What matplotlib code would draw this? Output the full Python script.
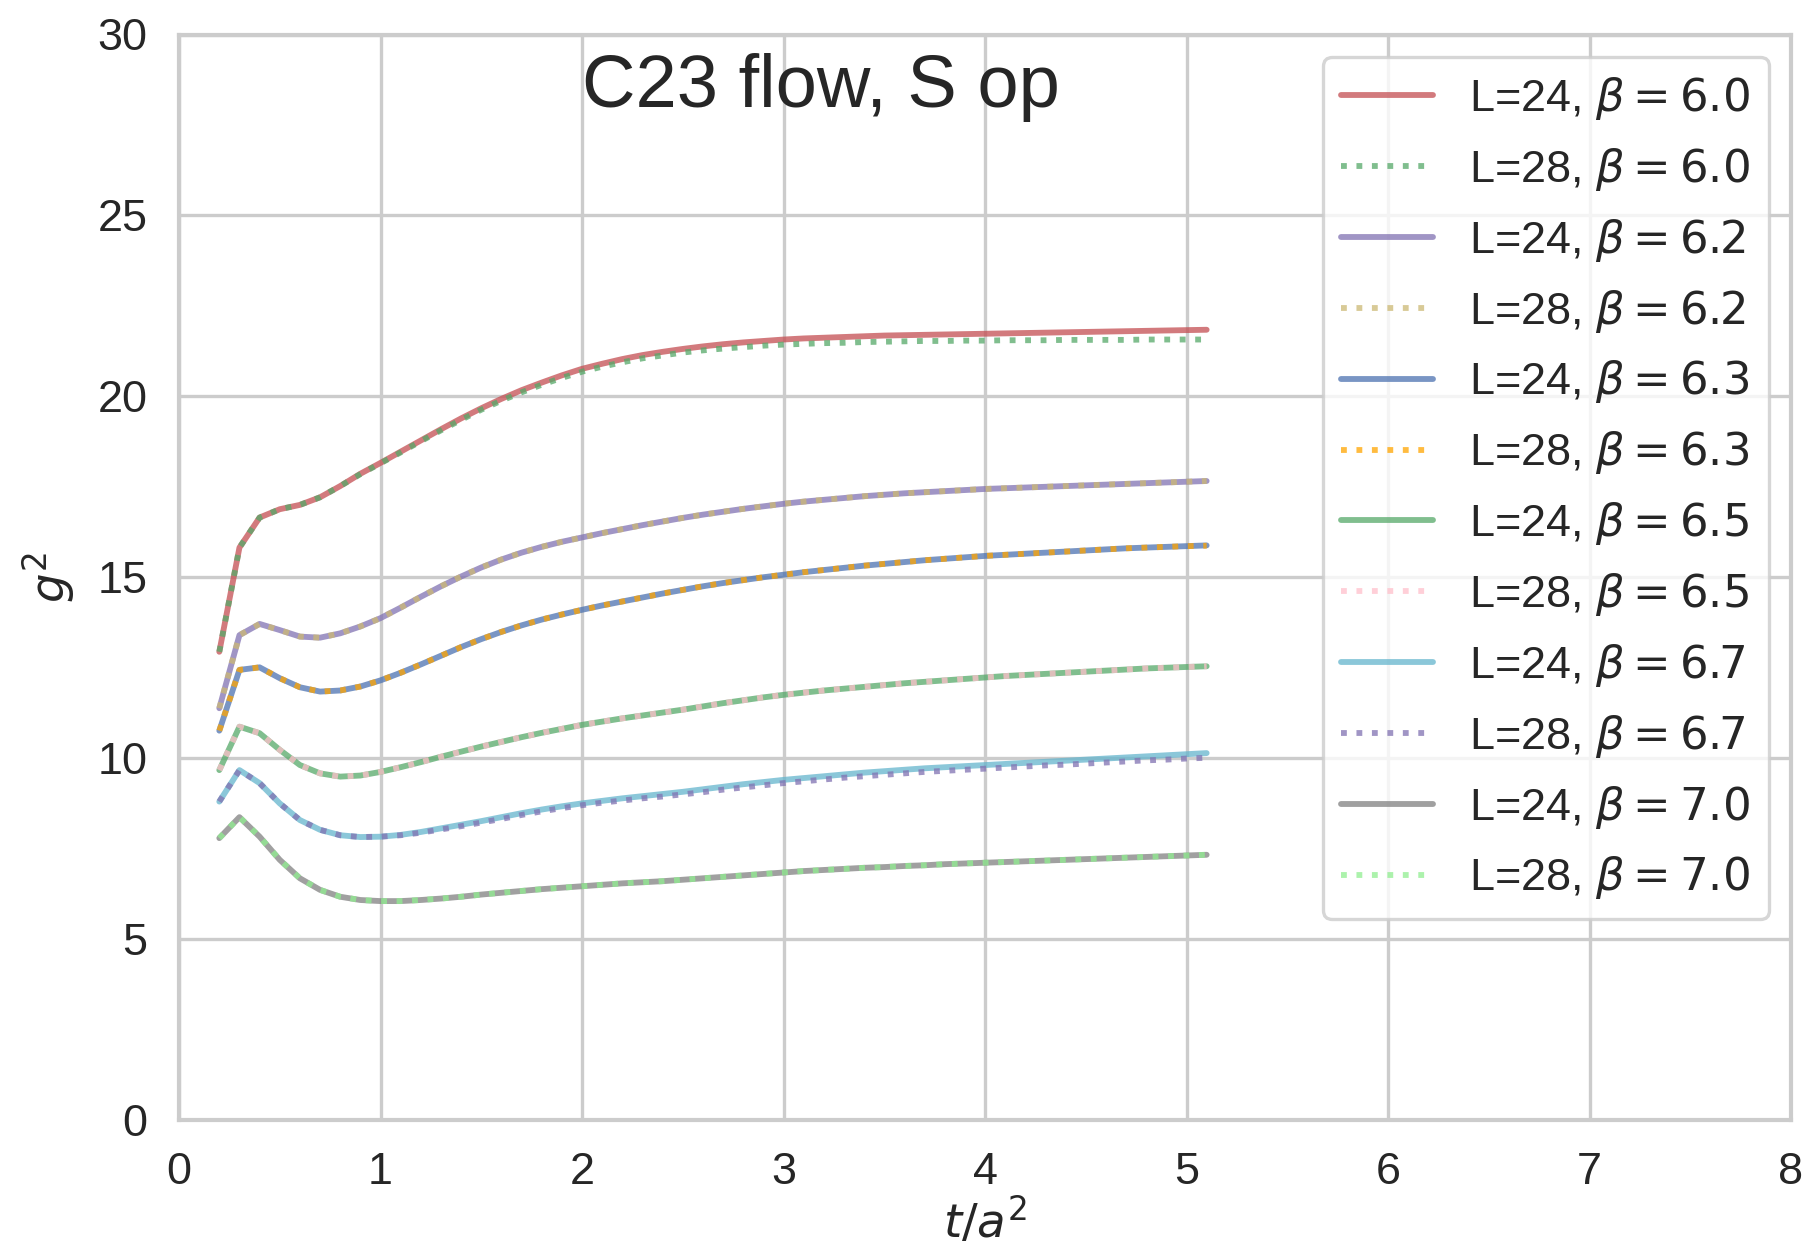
import matplotlib
matplotlib.use("Agg")
import matplotlib.pyplot as plt
import seaborn as sns

# Flow time t/a^2
flow_time = [0.2, 0.3, 0.4, 0.5, 0.6, 0.7, 0.8, 0.9, 1.0, 1.1,
             1.2, 1.3, 1.4, 1.5, 1.6, 1.7, 1.8, 1.9, 2.0, 2.1,
             2.2, 2.3, 2.4, 2.5, 2.6, 2.7, 2.8, 2.9, 3.0, 3.1,
             3.2, 3.3, 3.4, 3.5, 3.6, 3.7, 3.8, 3.9, 4.0, 4.1,
             4.2, 4.3, 4.4, 4.5, 4.6, 4.7, 4.8, 4.9, 5.0, 5.1]

# Running coupling g^2 for each lattice size / beta
g2_L24_b60 = [12.94, 15.82, 16.65, 16.88, 17.00, 17.21, 17.52, 17.86, 18.16, 18.47,
              18.78, 19.09, 19.39, 19.67, 19.93, 20.17, 20.38, 20.58, 20.76, 20.90,
              21.03, 21.14, 21.23, 21.31, 21.38, 21.44, 21.49, 21.53, 21.57, 21.60,
              21.62, 21.64, 21.66, 21.68, 21.69, 21.70, 21.71, 21.72, 21.73, 21.74,
              21.75, 21.76, 21.77, 21.78, 21.79, 21.80, 21.81, 21.82, 21.83, 21.84]
g2_L28_b60 = [12.94, 15.82, 16.65, 16.88, 17.00, 17.21, 17.52, 17.85, 18.15, 18.45,
              18.76, 19.06, 19.35, 19.63, 19.88, 20.11, 20.32, 20.51, 20.68, 20.82,
              20.94, 21.05, 21.13, 21.21, 21.27, 21.32, 21.36, 21.40, 21.43, 21.45,
              21.47, 21.48, 21.50, 21.51, 21.52, 21.53, 21.53, 21.54, 21.54, 21.55,
              21.55, 21.55, 21.56, 21.56, 21.56, 21.56, 21.57, 21.57, 21.57, 21.57]
g2_L24_b62 = [11.38, 13.40, 13.71, 13.54, 13.36, 13.33, 13.45, 13.64, 13.87, 14.16,
              14.46, 14.75, 15.02, 15.27, 15.49, 15.68, 15.84, 15.98, 16.10, 16.22,
              16.33, 16.44, 16.54, 16.64, 16.73, 16.81, 16.89, 16.96, 17.03, 17.09,
              17.14, 17.19, 17.24, 17.28, 17.32, 17.35, 17.38, 17.41, 17.44, 17.46,
              17.48, 17.50, 17.52, 17.54, 17.56, 17.58, 17.60, 17.62, 17.64, 17.66]
g2_L28_b62 = [11.38, 13.40, 13.71, 13.54, 13.36, 13.33, 13.45, 13.64, 13.87, 14.16,
              14.46, 14.75, 15.02, 15.27, 15.49, 15.68, 15.84, 15.98, 16.10, 16.22,
              16.33, 16.44, 16.54, 16.64, 16.73, 16.81, 16.89, 16.96, 17.03, 17.09,
              17.14, 17.19, 17.24, 17.28, 17.32, 17.35, 17.38, 17.41, 17.44, 17.46,
              17.48, 17.50, 17.52, 17.54, 17.56, 17.58, 17.60, 17.62, 17.64, 17.66]
g2_L24_b63 = [10.76, 12.44, 12.51, 12.21, 11.96, 11.84, 11.87, 11.98, 12.15, 12.36,
              12.59, 12.83, 13.07, 13.29, 13.49, 13.67, 13.83, 13.97, 14.10, 14.22,
              14.33, 14.44, 14.55, 14.65, 14.75, 14.84, 14.92, 15.00, 15.07, 15.14,
              15.20, 15.26, 15.32, 15.37, 15.42, 15.47, 15.51, 15.55, 15.59, 15.62,
              15.65, 15.68, 15.71, 15.74, 15.77, 15.80, 15.82, 15.84, 15.86, 15.88]
g2_L28_b63 = [10.76, 12.44, 12.51, 12.21, 11.96, 11.84, 11.87, 11.98, 12.15, 12.36,
              12.59, 12.83, 13.07, 13.29, 13.49, 13.67, 13.83, 13.97, 14.10, 14.22,
              14.33, 14.44, 14.55, 14.65, 14.75, 14.84, 14.92, 15.00, 15.07, 15.14,
              15.20, 15.26, 15.32, 15.37, 15.42, 15.47, 15.51, 15.55, 15.59, 15.62,
              15.65, 15.68, 15.71, 15.74, 15.77, 15.80, 15.82, 15.84, 15.86, 15.87]
g2_L24_b65 = [9.67, 10.87, 10.69, 10.23, 9.81, 9.58, 9.49, 9.52, 9.62, 9.75,
              9.89, 10.04, 10.18, 10.32, 10.45, 10.58, 10.70, 10.81, 10.92, 11.01,
              11.10, 11.18, 11.26, 11.34, 11.43, 11.52, 11.60, 11.68, 11.75, 11.81,
              11.87, 11.92, 11.97, 12.02, 12.07, 12.11, 12.15, 12.19, 12.23, 12.27,
              12.30, 12.33, 12.36, 12.39, 12.42, 12.45, 12.48, 12.50, 12.52, 12.54]
g2_L28_b65 = [9.67, 10.87, 10.69, 10.23, 9.81, 9.58, 9.49, 9.52, 9.62, 9.75,
              9.89, 10.04, 10.18, 10.32, 10.45, 10.58, 10.70, 10.81, 10.92, 11.01,
              11.10, 11.18, 11.26, 11.34, 11.43, 11.52, 11.60, 11.68, 11.75, 11.81,
              11.87, 11.92, 11.97, 12.02, 12.07, 12.11, 12.15, 12.19, 12.23, 12.27,
              12.30, 12.33, 12.36, 12.39, 12.42, 12.45, 12.48, 12.50, 12.52, 12.54]
g2_L24_b67 = [8.80, 9.67, 9.31, 8.75, 8.29, 8.02, 7.87, 7.82, 7.83, 7.88,
              7.96, 8.06, 8.16, 8.26, 8.37, 8.48, 8.58, 8.67, 8.75, 8.82,
              8.89, 8.95, 9.01, 9.07, 9.14, 9.21, 9.28, 9.34, 9.40, 9.45,
              9.50, 9.55, 9.60, 9.64, 9.68, 9.72, 9.75, 9.78, 9.81, 9.84,
              9.87, 9.90, 9.93, 9.96, 9.99, 10.02, 10.05, 10.08, 10.11, 10.14]
g2_L28_b67 = [8.80, 9.67, 9.31, 8.75, 8.29, 8.02, 7.87, 7.82, 7.83, 7.87,
              7.94, 8.03, 8.12, 8.22, 8.32, 8.43, 8.53, 8.62, 8.70, 8.77,
              8.83, 8.89, 8.94, 9.00, 9.06, 9.13, 9.19, 9.25, 9.31, 9.36,
              9.41, 9.46, 9.50, 9.54, 9.58, 9.62, 9.65, 9.68, 9.71, 9.74,
              9.77, 9.80, 9.82, 9.85, 9.88, 9.91, 9.94, 9.96, 9.99, 10.01]
g2_L24_b70 = [7.79, 8.37, 7.83, 7.19, 6.68, 6.36, 6.17, 6.08, 6.05, 6.05,
              6.08, 6.12, 6.17, 6.23, 6.28, 6.33, 6.38, 6.42, 6.46, 6.50,
              6.54, 6.57, 6.60, 6.64, 6.68, 6.72, 6.76, 6.80, 6.84, 6.88,
              6.91, 6.94, 6.97, 6.99, 7.02, 7.04, 7.07, 7.09, 7.11, 7.13,
              7.15, 7.17, 7.19, 7.21, 7.23, 7.25, 7.27, 7.29, 7.31, 7.33]
g2_L28_b70 = [7.79, 8.37, 7.83, 7.19, 6.68, 6.36, 6.17, 6.08, 6.05, 6.05,
              6.08, 6.12, 6.17, 6.23, 6.28, 6.33, 6.38, 6.42, 6.46, 6.50,
              6.54, 6.57, 6.60, 6.64, 6.68, 6.72, 6.76, 6.80, 6.84, 6.88,
              6.91, 6.94, 6.97, 6.99, 7.02, 7.04, 7.07, 7.09, 7.11, 7.13,
              7.15, 7.17, 7.19, 7.21, 7.23, 7.25, 7.27, 7.29, 7.31, 7.33]

labels = [
    r"L=24, $\beta = 6.0$", r"L=28, $\beta = 6.0$",
    r"L=24, $\beta = 6.2$", r"L=28, $\beta = 6.2$",
    r"L=24, $\beta = 6.3$", r"L=28, $\beta = 6.3$",
    r"L=24, $\beta = 6.5$", r"L=28, $\beta = 6.5$",
    r"L=24, $\beta = 6.7$", r"L=28, $\beta = 6.7$",
    r"L=24, $\beta = 7.0$", r"L=28, $\beta = 7.0$",
]
series = [g2_L24_b60, g2_L28_b60, g2_L24_b62, g2_L28_b62,
          g2_L24_b63, g2_L28_b63, g2_L24_b65, g2_L28_b65,
          g2_L24_b67, g2_L28_b67, g2_L24_b70, g2_L28_b70]
colors = ["#C44E52", "#55A868", "#8172B2", "#CCB974",
          "#4C72B0", "orange", "#55A868", "pink",
          "#64B5CD", "#8172B2", "gray", "lightgreen"]
styles = ["-", ":"] * 6

sns.set_theme(style="whitegrid", context="poster")
plt.rcParams["font.family"] = ["Liberation Sans", "DejaVu Sans"]
plt.rcParams["mathtext.fontset"] = "dejavusans"

fig = plt.figure(figsize=(1802 / 120, 1251 / 120), dpi=120)
ax = fig.add_axes([179 / 1802, 1 - 1120 / 1251, (1791 - 179) / 1802, (1120 - 34.5) / 1251])

for y, lab, c, ls in zip(series, labels, colors, styles):
    ax.plot(flow_time, y, ls, color=c, alpha=0.75, lw=3.5, label=lab)

ax.set_xlim(0, 8)
ax.set_ylim(0, 30)
ax.set_xticks(range(0, 9))
ax.set_yticks(range(0, 31, 5))
ax.tick_params(axis="both", labelsize=27)
ax.tick_params(axis="x", pad=7)
ax.tick_params(axis="y", pad=7)
ax.set_xlabel(r"$t/a^2$", fontsize=28, labelpad=2)
ax.set_ylabel(r"$g^2$", fontsize=28, labelpad=12)
ax.text(2, 28, "C23 flow, S op", fontsize=44.5, color="0.15")
ax.legend(loc="upper right", fontsize=27, handlelength=2.05,
          labelspacing=0.53, framealpha=0.8)

fig.savefig("out.png", dpi=120)
